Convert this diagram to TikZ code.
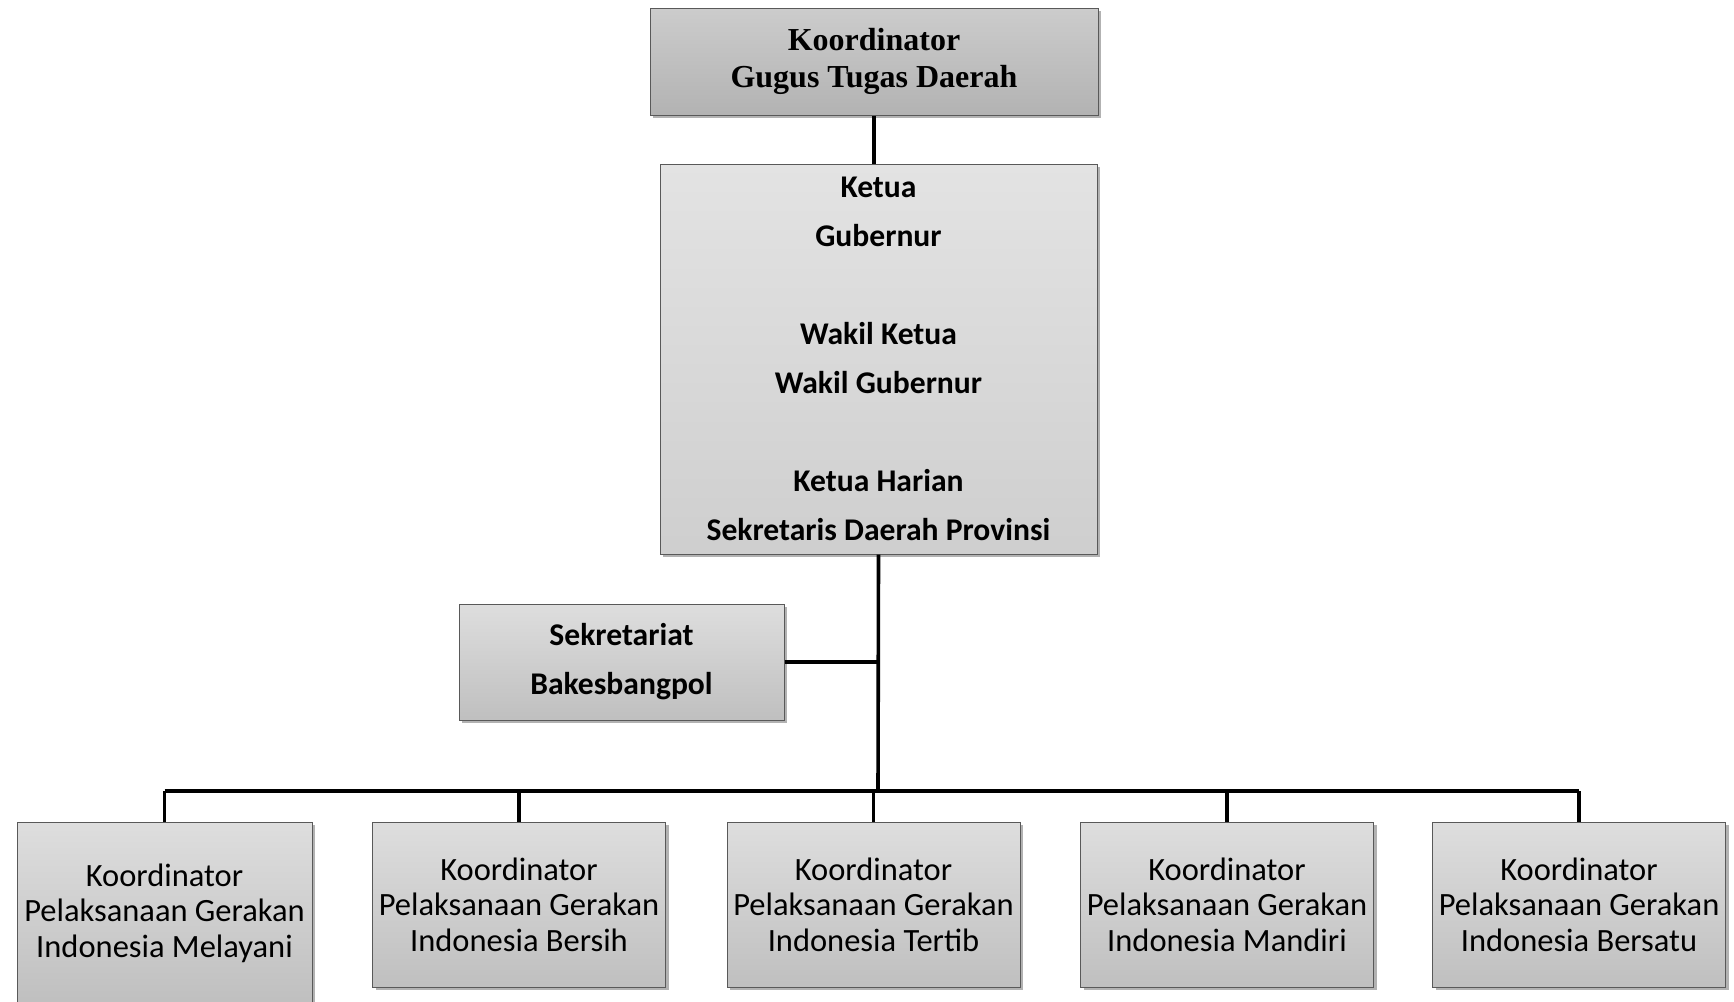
\documentclass[tikz,border=0pt]{standalone}
\usepackage{fontspec}
\setmainfont{Carlito}
\newfontfamily\timesf{Liberation Serif}
\usetikzlibrary{shadows}
\begin{document}
\begin{tikzpicture}[x=1pt,y=-1pt,
  box/.style={draw=black!65, line width=1pt, top color=black!13, bottom color=black!25,
    drop shadow={shadow xshift=3pt,shadow yshift=-3pt,opacity=0.3,fill=black},
    align=center, inner sep=0pt},
  toptext/.style={font=\timesf\bfseries\fontsize{32}{36.5}\selectfont},
  midtext/.style={font=\bfseries\fontsize{31.6}{49}\selectfont},
  lowtext/.style={font=\fontsize{32.5}{35.5}\selectfont},
  link/.style={line width=3.6pt, black}]
\useasboundingbox[fill=white] (0,0) rectangle (1734,1001);

\node[box, top color=black!20, bottom color=black!30, minimum width=448pt, minimum height=107pt, toptext] (top) at (874,61.5) {Koordinator\\Gugus Tugas Daerah};

\node[box, top color=black!11, bottom color=black!19, minimum width=437pt, minimum height=390pt, midtext] (big) at (878.5,359)
  {Ketua\\Gubernur\\[49pt]Wakil Ketua\\Wakil Gubernur\\[49pt]Ketua Harian\\Sekretaris Daerah Provinsi};

\node[box, minimum width=325pt, minimum height=116pt, midtext] (sek) at (621.5,662) {Sekretariat\\Bakesbangpol};

\node[box, minimum width=295pt, minimum height=182pt, lowtext] (b1) at (164.5,913) {Koordinator\\Pelaksanaan Gerakan\\Indonesia Melayani};
\node[box, minimum width=293pt, minimum height=165pt, lowtext] (b2) at (519,904.5) {Koordinator\\Pelaksanaan Gerakan\\Indonesia Bersih};
\node[box, minimum width=293pt, minimum height=165pt, lowtext] (b3) at (873.5,904.5) {Koordinator\\Pelaksanaan Gerakan\\Indonesia Tertib};
\node[box, minimum width=293pt, minimum height=165pt, lowtext] (b4) at (1227,904.5) {Koordinator\\Pelaksanaan Gerakan\\Indonesia Mandiri};
\node[box, minimum width=293pt, minimum height=165pt, lowtext] (b5) at (1579,904.5) {Koordinator\\Pelaksanaan Gerakan\\Indonesia Bersatu};

\coordinate (bus) at (878,791);

\draw[link] (top.south) -- (top.south |- big.north);
\draw[link] (big.south) -- (bus);
\draw[link] (sek.east) -- (sek.east -| big.south);
\draw[link] (b1.north |- bus) -- (b5.north |- bus);
\foreach \b in {b1,b2,b3,b4,b5}
  \draw[link] (\b.north |- bus) -- (\b.north);
\end{tikzpicture}
\end{document}
